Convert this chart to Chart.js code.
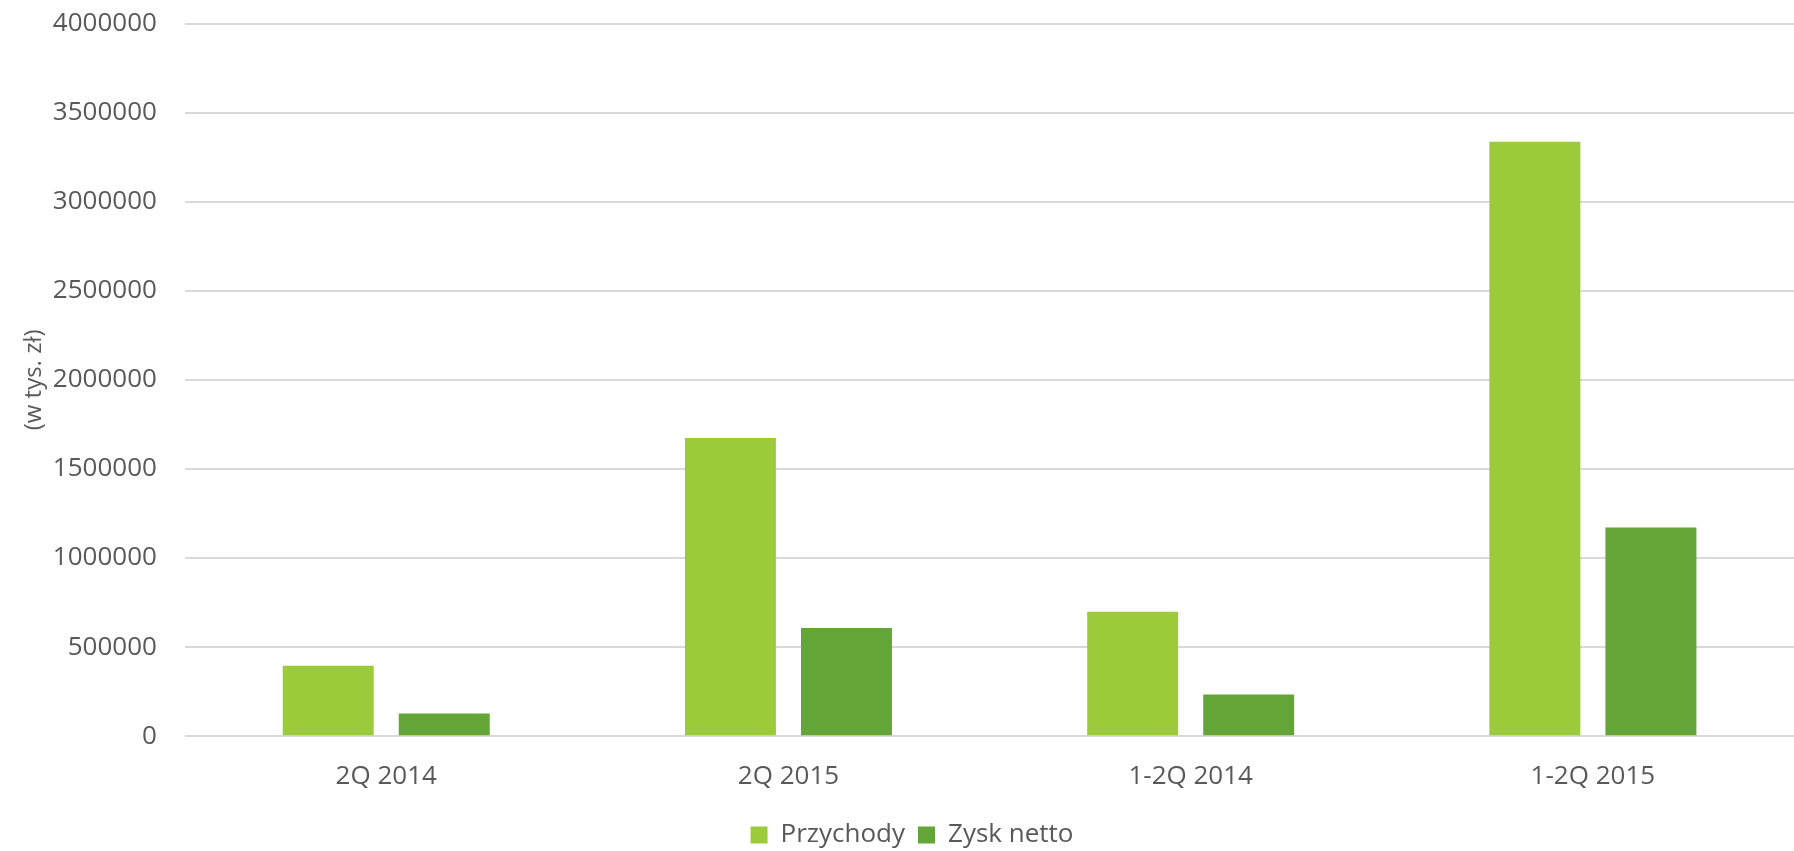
<!DOCTYPE html>
<html>
<head>
<meta charset="utf-8">
<script src="https://cdn.jsdelivr.net/npm/chart.js@4"></script>
<style>
  html, body { margin: 0; padding: 0; background: #fff; }
  #wrap { width: 1794px; height: 851px; }
</style>
</head>
<body>
<div id="wrap"><canvas id="chart"></canvas></div>
<script>
const categories = ["2Q 2014", "2Q 2015", "1-2Q 2014", "1-2Q 2015"];
const przychody = [395000, 1674000, 698000, 3337000];
const zyskNetto = [127000, 608000, 234000, 1172000];

const textColor = "#595959";
const fontFamily = "'Open Sans', sans-serif";

new Chart(document.getElementById("chart").getContext("2d"), {
    type: "bar",
    data: {
        labels: categories,
        datasets: [
            {
                label: "Przychody",
                data: przychody,
                backgroundColor: "#9BCB3A",
                categoryPercentage: 0.577,
                barPercentage: 0.784
            },
            {
                label: "Zysk netto",
                data: zyskNetto,
                backgroundColor: "#63A537",
                categoryPercentage: 0.577,
                barPercentage: 0.784
            }
        ]
    },
    options: {
        responsive: true,
        maintainAspectRatio: false,
        animation: false,
        // plot runs slightly past the right edge, like the cropped original
        layout: { padding: { top: 0, right: -10, left: 20, bottom: -7 } },
        scales: {
            x: {
                grid: { display: false },
                border: { display: false },
                ticks: {
                    color: textColor,
                    font: { family: fontFamily, size: 26, lineHeight: 0.8 },
                    padding: 22
                }
            },
            y: {
                min: 0, max: 4000000,
                ticks: {
                    stepSize: 500000,
                    color: textColor,
                    font: { family: fontFamily, size: 26 },
                    padding: 8,
                    // trailing spaces keep the gap between labels and gridlines
                    callback: (v) => String(v) + "   "
                },
                grid: { color: "#D9D9D9", lineWidth: 2, drawTicks: false },
                border: { display: false },
                title: {
                    display: true,
                    text: "(w tys. zł)",
                    color: textColor,
                    font: { family: fontFamily, size: 24 },
                    padding: { top: 0, bottom: -4 }
                }
            }
        },
        plugins: {
            legend: {
                position: "bottom",
                labels: {
                    color: textColor,
                    font: { family: fontFamily, size: 26 },
                    boxWidth: 17,
                    boxHeight: 17,
                    padding: 13
                }
            },
            tooltip: { enabled: false }
        }
    }
});
</script>
</body>
</html>
